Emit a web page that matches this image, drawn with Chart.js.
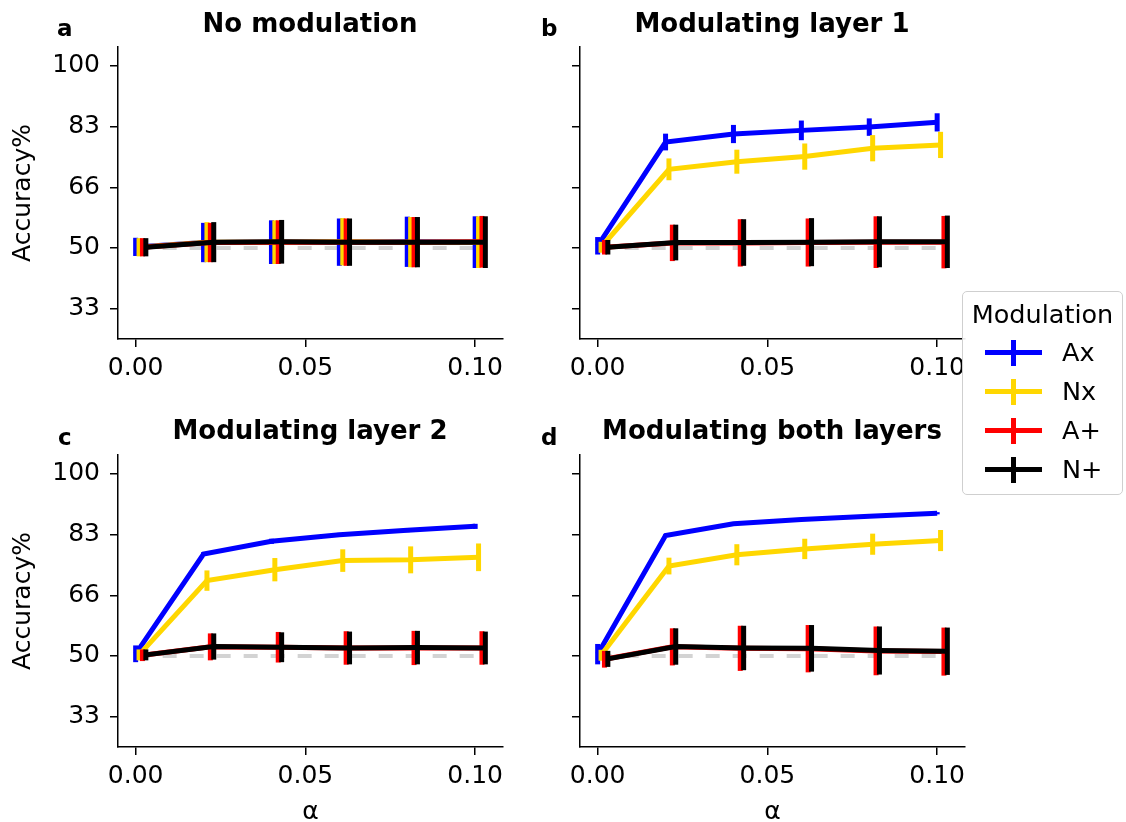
<!DOCTYPE html>
<html lang="en">
<head>
<meta charset="UTF-8">
<title>Accuracy vs alpha</title>
<style>
  body { margin: 0; background: #fff; font-family: 'DejaVu Sans', sans-serif; color: #000; }
  #wrap { position: relative; width: 1126px; height: 822px; overflow: hidden; }
  canvas { position: absolute; }
  .title { position: absolute; font-weight: bold; font-size: 26px; line-height: 28px; white-space: nowrap; transform: translateX(-50%); }
  .letter { position: absolute; font-weight: bold; font-size: 23px; line-height: 24px; }
  #legend {
    position: absolute; left: 962px; top: 291px; width: 159px; height: 202px;
    border: 1.5px solid #cfcfcf; border-radius: 5px; background: rgba(255,255,255,0.9);
  }
  #legend .lgTitle { text-align: center; font-size: 25.5px; line-height: 30px; margin: 7px 0 4px 0; }
  #legend .lgItem { font-size: 25.5px; line-height: 39px; height: 39px; display: flex; align-items: center; }
  #legend .handle { position: relative; width: 57px; height: 26px; margin: 0 20px 0 22px; }
  #legend .handle .h { position: absolute; left: 0; right: 0; top: 10.5px; height: 5px; }
  #legend .handle .v { position: absolute; left: 26px; width: 5px; top: 0; bottom: 0; }
</style>
</head>
<body>
<div id="wrap">
  <canvas id="pa" width="520" height="400" style="left:0;top:0"></canvas>
  <canvas id="pb" width="460" height="400" style="left:520px;top:0"></canvas>
  <canvas id="pc" width="520" height="430" style="left:0;top:400px"></canvas>
  <canvas id="pd" width="460" height="430" style="left:520px;top:400px"></canvas>

  <div class="letter" style="left:57px;top:16px">a</div>
  <div class="letter" style="left:541px;top:16px">b</div>
  <div class="letter" style="left:58px;top:425px">c</div>
  <div class="letter" style="left:541px;top:425px">d</div>

  <div class="title" style="left:310px;top:9px">No modulation</div>
  <div class="title" style="left:772px;top:9px">Modulating layer 1</div>
  <div class="title" style="left:310px;top:416px">Modulating layer 2</div>
  <div class="title" style="left:772px;top:416px">Modulating both layers</div>

  <div id="legend"><div class="lgTitle">Modulation</div></div>
</div>

<script src="https://cdn.jsdelivr.net/npm/chart.js"></script>
<script>
// x values (alpha) and axis ticks
const alphas = [0, 0.02, 0.04, 0.06, 0.08, 0.10];
const xTicks = [0, 0.05, 0.10];
const xTickLabels = ['0.00', '0.05', '0.10'];
const yTicks = [100 / 3, 50, 200 / 3, 250 / 3, 100];
const yTickLabels = ['33', '50', '66', '83', '100'];
const chance = 50;

const seriesNames = ['Ax', 'Nx', 'A+', 'N+'];
const seriesColors = ['#0000ff', '#ffd700', '#ff0000', '#000000'];

// a: no modulation
const aAx = [50.3, 51.5, 51.6, 51.6, 51.7, 51.6];
const aAxErr = [2.5, 5.4, 6.0, 6.5, 6.9, 7.1];
const aNx = [50.2, 51.6, 51.6, 51.7, 51.6, 51.6];
const aNxErr = [2.5, 5.5, 6.0, 6.5, 6.9, 7.1];
const aAp = [50.2, 51.5, 51.6, 51.6, 51.6, 51.7];
const aApErr = [2.5, 5.4, 6.0, 6.5, 6.9, 7.1];
const aNp = [50.2, 51.6, 51.7, 51.6, 51.6, 51.6];
const aNpErr = [2.5, 5.5, 6.0, 6.5, 6.9, 7.1];

// b: modulating layer 1
const bAx = [50.6, 79.1, 81.3, 82.3, 83.2, 84.5];
const bAxErr = [2.4, 2.3, 2.5, 2.7, 2.4, 2.5];
const bNx = [50.2, 71.6, 73.7, 75.1, 77.4, 78.3];
const bNxErr = [1.5, 3.0, 3.3, 3.6, 3.6, 3.6];
const bAp = [50.2, 51.4, 51.4, 51.5, 51.6, 51.6];
const bApErr = [2.0, 5.0, 6.5, 6.6, 7.1, 7.2];
const bNp = [50.2, 51.5, 51.5, 51.6, 51.7, 51.7];
const bNpErr = [2.0, 4.9, 6.4, 6.6, 7.0, 7.2];

// c: modulating layer 2
const cAx = [50.6, 78.0, 81.5, 83.3, 84.5, 85.6];
const cAxErr = [2.3, 0.5, 0.7, 0.5, 0.5, 0.7];
const cNx = [50.3, 70.7, 73.7, 76.2, 76.4, 77.1];
const cNxErr = [1.5, 2.8, 3.2, 3.1, 3.7, 3.8];
const cAp = [50.2, 52.5, 52.4, 52.2, 52.2, 52.2];
const cApErr = [1.6, 3.7, 4.2, 4.6, 4.7, 4.6];
const cNp = [50.3, 52.6, 52.4, 52.2, 52.3, 52.2];
const cNpErr = [1.5, 3.6, 4.1, 4.5, 4.6, 4.5];

// d: modulating both layers
const dAx = [50.5, 83.1, 86.3, 87.5, 88.4, 89.2];
const dAxErr = [2.8, 0.3, 0.3, 0.3, 0.3, 0.3];
const dNx = [50.2, 74.7, 77.8, 79.4, 80.7, 81.7];
const dNxErr = [1.5, 2.3, 2.9, 2.8, 2.9, 2.9];
const dAp = [49.1, 52.5, 52.1, 52.0, 51.4, 51.2];
const dApErr = [2.3, 5.1, 6.2, 6.5, 6.7, 6.6];
const dNp = [49.2, 52.6, 52.2, 52.1, 51.5, 51.3];
const dNpErr = [2.2, 5.0, 6.1, 6.4, 6.6, 6.5];

const DODGE = 0.001; // small x shift between series, as in the original
const FONT = { family: "'DejaVu Sans', sans-serif", size: 25 };

// vertical error bars, drawn right after each dataset
const errorBars = {
  id: 'errorBars',
  afterDatasetDraw(chart, args) {
    const ds = chart.data.datasets[args.index];
    if (!ds.errors) return;
    const ctx = chart.ctx, xs = chart.scales.x, ys = chart.scales.y;
    ctx.save();
    ctx.strokeStyle = ds.borderColor;
    ctx.lineWidth = 5;
    ds.data.forEach((p, i) => {
      const x = xs.getPixelForValue(p.x);
      ctx.beginPath();
      ctx.moveTo(x, ys.getPixelForValue(p.y - ds.errors[i]));
      ctx.lineTo(x, ys.getPixelForValue(p.y + ds.errors[i]));
      ctx.stroke();
    });
    ctx.restore();
  }
};

function makePanel(id, series, opt) {
  const datasets = [{
    label: 'chance',
    data: [{ x: 0, y: chance }, { x: 0.10, y: chance }],
    borderColor: '#d3d3d3', borderWidth: 4, borderDash: [14, 13],
    pointRadius: 0, order: 10
  }];
  series.forEach((s, k) => {
    datasets.push({
      label: seriesNames[k],
      data: alphas.map((a, i) => ({ x: a + k * DODGE, y: s.y[i] })),
      errors: s.e,
      borderColor: seriesColors[k], backgroundColor: seriesColors[k],
      borderWidth: 5, pointRadius: 0, tension: 0,
      order: 4 - k
    });
  });
  new Chart(document.getElementById(id), {
    type: 'line',
    data: { datasets },
    options: {
      responsive: false, animation: false,
      layout: { padding: { top: opt.top, right: opt.right, left: 0, bottom: 0 } },
      plugins: { legend: { display: false }, tooltip: { enabled: false } },
      scales: {
        x: {
          type: 'linear', min: -0.0052, max: 0.1082,
          afterBuildTicks: s => { s.ticks = xTicks.map(v => ({ value: v })); },
          afterFit: s => { s.height = opt.xh; },
          ticks: { callback: (v, i) => xTickLabels[i], font: FONT, color: '#000', padding: 6, maxRotation: 0, autoSkip: false },
          grid: { drawOnChartArea: false, drawTicks: true, tickLength: 8, color: '#000', lineWidth: 1.5 },
          border: { display: true, color: '#000', width: 1.5 },
          title: { display: opt.xTitle, text: 'α', font: FONT, color: '#000', padding: { top: 0, bottom: 3 } }
        },
        y: {
          type: 'linear', min: 25, max: 105.2,
          afterBuildTicks: s => { s.ticks = yTicks.map(v => ({ value: v })); },
          afterFit: s => { s.width = opt.yw; },
          ticks: { callback: (v, i) => opt.yLabels ? yTickLabels[i] : '', font: FONT, color: '#000', padding: 10, autoSkip: false },
          grid: { drawOnChartArea: false, drawTicks: true, tickLength: 8, color: '#000', lineWidth: 1.5 },
          border: { display: true, color: '#000', width: 1.5 },
          title: { display: opt.yLabels, text: 'Accuracy%', font: FONT, color: '#000', padding: { top: 8, bottom: 0 } }
        }
      }
    },
    plugins: [errorBars]
  });
}

makePanel('pa', [{ y: aAx, e: aAxErr }, { y: aNx, e: aNxErr }, { y: aAp, e: aApErr }, { y: aNp, e: aNpErr }],
  { top: 47, right: 17, xh: 61, yw: 118, yLabels: true, xTitle: false });
makePanel('pb', [{ y: bAx, e: bAxErr }, { y: bNx, e: bNxErr }, { y: bAp, e: bApErr }, { y: bNp, e: bNpErr }],
  { top: 47, right: 15, xh: 61, yw: 60, yLabels: false, xTitle: false });
makePanel('pc', [{ y: cAx, e: cAxErr }, { y: cNx, e: cNxErr }, { y: cAp, e: cApErr }, { y: cNp, e: cNpErr }],
  { top: 55, right: 17, xh: 83, yw: 118, yLabels: true, xTitle: true });
makePanel('pd', [{ y: dAx, e: dAxErr }, { y: dNx, e: dNxErr }, { y: dAp, e: dApErr }, { y: dNp, e: dNpErr }],
  { top: 55, right: 15, xh: 83, yw: 60, yLabels: false, xTitle: true });

// legend
const legend = document.getElementById('legend');
seriesNames.forEach((name, k) => {
  const item = document.createElement('div');
  item.className = 'lgItem';
  const h = document.createElement('span');
  h.className = 'handle';
  h.innerHTML = '<span class="h"></span><span class="v"></span>';
  h.querySelectorAll('span').forEach(el => { el.style.background = seriesColors[k]; });
  item.appendChild(h);
  item.appendChild(document.createTextNode(name));
  legend.appendChild(item);
});
</script>
</body>
</html>
